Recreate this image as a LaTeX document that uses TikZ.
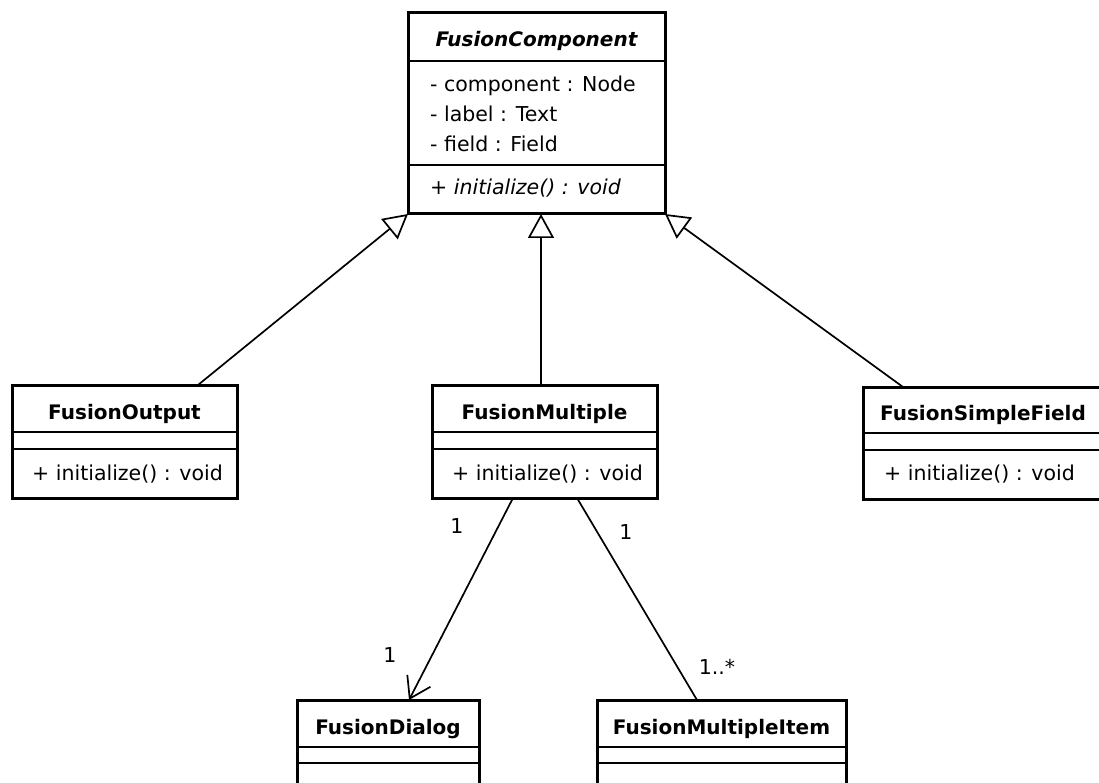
\documentclass[tikz,border=0pt]{standalone}
\usepackage{fontspec}
\setmainfont{DejaVu Sans}
\usetikzlibrary{arrows.meta,calc}
\begin{document}
\begin{tikzpicture}[x=1pt,y=-1pt,
  classbox/.style={draw=black, line width=3pt, anchor=north west, inner sep=0pt, outer sep=0pt},
  sep/.style={draw=black, line width=1.6pt},
  ctitle/.style={anchor=base, inner sep=0pt, font=\fontsize{20}{24}\selectfont\bfseries},
  member/.style={anchor=base west, inner sep=0pt, font=\fontsize{20.5}{24}\selectfont},
  mult/.style={inner sep=0pt, font=\fontsize{20.5}{24}\selectfont},
  conn/.style={draw=black, line width=1.7pt},
  gen/.style={conn, -{Triangle[open, fill=white, length=24pt, width=26pt, line width=1.7pt]}},
  nav/.style={conn, -{Straight Barb[length=20pt, width=26pt, line width=1.7pt]}},
]
% canvas
\fill[white] (0,0) rectangle (1099,783);
\useasboundingbox (0,0) rectangle (1099,783);
\clip (0,0) rectangle (1099,783);

% abstract base class
\node[classbox, minimum width=257pt, minimum height=201pt] (fc) at (408,13) {};
\draw[sep] ($(fc.north west)+(0,48)$) -- ($(fc.north east)+(0,48)$);
\draw[sep] ($(fc.north west)+(0,152)$) -- ($(fc.north east)+(0,152)$);
\node[ctitle, font=\fontsize{20}{24}\selectfont\bfseries\itshape] (fc-t) at ($(fc.north)+(0,34)$) {FusionComponent};
\node[member] (fc-a1) at ($(fc.north west)+(22,79)$) {- component : Node};
\node[member] (fc-a2) at ($(fc.north west)+(22,109)$) {- label : Text};
\node[member] (fc-a3) at ($(fc.north west)+(22,139)$) {- field : Field};
\node[member, font=\fontsize{20.5}{24}\selectfont\itshape] (fc-m1) at ($(fc.north west)+(22,182)$) {+ initialize() : void};

% FusionOutput
\node[classbox, minimum width=225pt, minimum height=113pt] (fo) at (12,385) {};
\draw[sep] ($(fo.north west)+(0,47)$) -- ($(fo.north east)+(0,47)$);
\draw[sep] ($(fo.north west)+(0,64)$) -- ($(fo.north east)+(0,64)$);
\node[ctitle] (fo-t) at ($(fo.north)+(0,34)$) {FusionOutput};
\node[member] (fo-m1) at ($(fo.north west)+(20,95)$) {+ initialize() : void};

% FusionMultiple
\node[classbox, minimum width=225pt, minimum height=113pt] (fm) at (432,385) {};
\draw[sep] ($(fm.north west)+(0,47)$) -- ($(fm.north east)+(0,47)$);
\draw[sep] ($(fm.north west)+(0,64)$) -- ($(fm.north east)+(0,64)$);
\node[ctitle] (fm-t) at ($(fm.north)+(0,34)$) {FusionMultiple};
\node[member] (fm-m1) at ($(fm.north west)+(20,95)$) {+ initialize() : void};

% FusionSimpleField
\node[classbox, minimum width=240pt, minimum height=112pt] (fs) at (863,387) {};
\draw[sep] ($(fs.north west)+(0,46)$) -- ($(fs.north east)+(0,46)$);
\draw[sep] ($(fs.north west)+(0,63)$) -- ($(fs.north east)+(0,63)$);
\node[ctitle] (fs-t) at ($(fs.north)+(0,33)$) {FusionSimpleField};
\node[member] (fs-m1) at ($(fs.north west)+(21,93)$) {+ initialize() : void};

% FusionDialog
\node[classbox, minimum width=182pt, minimum height=100pt] (fd) at (297,700) {};
\draw[sep] ($(fd.north west)+(0,47)$) -- ($(fd.north east)+(0,47)$);
\draw[sep] ($(fd.north west)+(0,63)$) -- ($(fd.north east)+(0,63)$);
\node[ctitle] (fd-t) at ($(fd.north)+(0,34)$) {FusionDialog};

% FusionMultipleItem
\node[classbox, minimum width=249pt, minimum height=100pt] (fi) at (597,700) {};
\draw[sep] ($(fi.north west)+(0,47)$) -- ($(fi.north east)+(0,47)$);
\draw[sep] ($(fi.north west)+(0,63)$) -- ($(fi.north east)+(0,63)$);
\node[ctitle] (fi-t) at ($(fi.north)+(0,34)$) {FusionMultipleItem};

% generalizations
\draw[gen] ($(fo.north west)+(186,0)$) -- (fc.south west);
\draw[gen] ($(fm.north west)+(109,0)$) -- ($(fc.south west)+(133,0)$);
\draw[gen] ($(fs.north west)+(40,0)$) -- (fc.south east);

% associations
\draw[nav] ($(fm.south west)+(81,0)$) -- ($(fd.north west)+(112,0)$);
\draw[conn] ($(fm.south west)+(145,0)$) -- ($(fi.north west)+(100,0)$);

% multiplicities
\node[mult] (m1) at (457,526) {1};
\node[mult] (m2) at (626,532) {1};
\node[mult] (m3) at (390,655) {1};
\node[mult] (m4) at (717,667) {1..*};
\end{tikzpicture}
\end{document}
